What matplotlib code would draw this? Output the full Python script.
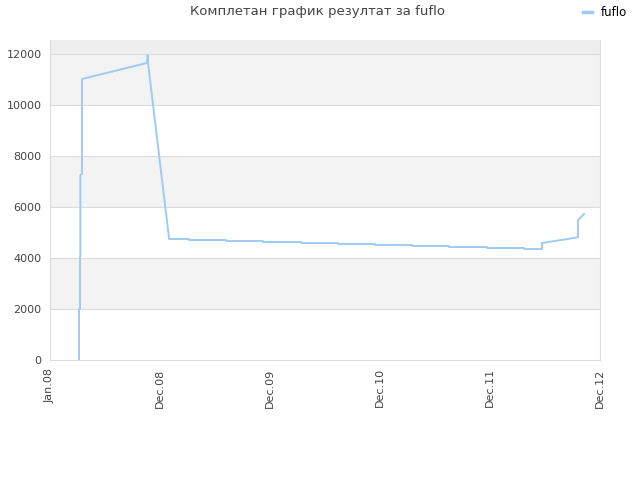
import numpy as np
import matplotlib.pyplot as plt
from matplotlib.lines import Line2D

# x in "tick units" (0 = Jan.08, 1 = Dec.08, ... 5 = Dec.12)
tick_labels = ["Jan.08", "Dec.08", "Dec.09", "Dec.10", "Dec.11", "Dec.12"]
x_pos = [0.264, 0.264, 0.273, 0.273, 0.276, 0.276, 0.291, 0.291,
         0.882, 0.888, 0.891, 1.082, 1.082,
         1.264, 1.264, 1.600, 1.600, 1.936, 1.936, 2.282, 2.282,
         2.618, 2.618, 2.955, 2.955, 3.291, 3.291, 3.627, 3.627,
         3.973, 3.973, 4.309, 4.309, 4.473, 4.473,
         4.55, 4.62, 4.70, 4.78, 4.80,
         4.800, 4.855]
y_val = [0, 2000, 2000, 4040, 4100, 7250, 7300, 11020,
         11650, 11960, 11650, 4780, 4745,
         4745, 4706, 4706, 4667, 4667, 4627, 4627, 4588,
         4588, 4549, 4549, 4510, 4510, 4471, 4471, 4431,
         4431, 4392, 4392, 4353, 4353, 4588,
         4640, 4690, 4740, 4800, 4824,
         5490, 5725]

fig = plt.figure(figsize=(6.4, 4.8), dpi=100)
ax = fig.add_axes([50/640, 120/480, 550/640, 320/480])

ymax = 12550
bands = [(2000, 4000, '#f3f3f3'), (6000, 8000, '#f3f3f3'),
         (10000, 12000, '#f3f3f3'), (12000, ymax, '#eeeeee')]
for lo, hi, c in bands:
    ax.axhspan(lo, hi, color=c, lw=0, zorder=0)
for v in range(2000, 12001, 2000):
    ax.axhline(v, color='#dddddd', lw=0.8, zorder=1)

ax.plot(x_pos, y_val, color='#9ecbf5', lw=1.4, zorder=3)

ax.set_xlim(0, 5)
ax.set_ylim(0, ymax)
ax.set_xticks(range(len(tick_labels)))
ax.set_xticklabels(tick_labels, rotation=90)
ax.set_yticks(range(0, 12001, 2000))
ax.tick_params(length=0, labelsize=8, colors='#444444', pad=6)
for s in ['left', 'bottom', 'right']:
    ax.spines[s].set_color('#dddddd')
ax.spines['top'].set_visible(False)

fig.text(318/640, 1 - 12/480, "Комплетан график резултат за fuflo",
         ha='center', va='center', fontsize=9.5, color='#444444')
handle = Line2D([], [], color='#9ecbf5', lw=2.5)
fig.legend(handles=[handle], labels=['fuflo'], loc='center left',
           bbox_to_anchor=(572/640, 1 - 13/480),
           frameon=False, fontsize=8.5, handlelength=0.8, handletextpad=0.7)

fig.savefig('out.png', dpi=100)
